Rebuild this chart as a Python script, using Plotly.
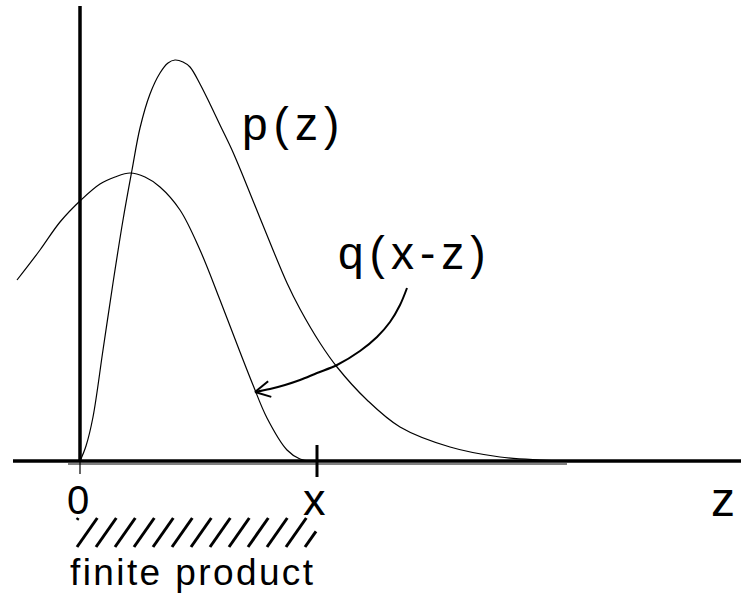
import numpy as np
import plotly.graph_objects as go

# ---- data (units: 1 = 100 px of the original drawing; origin at z=0 on the baseline) ----
p_z = [0.00, 0.06, 0.13, 0.23, 0.33, 0.43, 0.52, 0.60, 0.70, 0.80, 0.88, 0.95, 1.03, 1.10,
       1.20, 1.30, 1.40, 1.52, 1.63, 1.80, 2.07, 2.20, 2.40, 2.57, 2.87, 3.20, 3.70, 4.20,
       4.60, 4.87]
p_y = [0.00, 0.15, 0.44, 1.11, 1.78, 2.41, 2.91, 3.33, 3.67, 3.88, 3.98, 4.01, 3.99, 3.94,
       3.77, 3.57, 3.36, 3.11, 2.85, 2.43, 1.78, 1.52, 1.18, 0.94, 0.61, 0.34, 0.14, 0.04,
       0.01, 0.00]

q_z = [-0.63, -0.40, -0.20, 0.01, 0.20, 0.35, 0.50, 0.65, 0.80, 1.00, 1.20, 1.40, 1.60,
       1.73, 1.87, 2.07, 2.20, 2.30]
q_y = [1.81, 2.11, 2.39, 2.61, 2.77, 2.84, 2.88, 2.84, 2.74, 2.51, 2.11, 1.61, 1.09,
       0.76, 0.43, 0.11, 0.02, 0.00]

# curved arrow from the q(x-z) label to the q curve
arrow_z = [3.27, 3.20, 3.10, 2.97, 2.80, 2.57, 2.37, 2.20, 2.05, 1.90, 1.75]
arrow_y = [1.73, 1.56, 1.39, 1.24, 1.10, 0.96, 0.88, 0.81, 0.76, 0.72, 0.69]

x_mark = 2.37            # position of the x tick
zero_band_end = 4.87     # grey zero line end
hatch_left, hatch_right = -0.03, 2.36
hatch_top, hatch_bottom = -0.57, -0.86

FONT = "Liberation Sans, Arial, Helvetica, sans-serif"

fig = go.Figure()

# grey zero line just under the axis
fig.add_trace(go.Scatter(x=[-0.12, zero_band_end], y=[-0.03, -0.03], mode="lines",
                         line=dict(color="#808080", width=2), hoverinfo="skip"))

# axes
fig.add_shape(type="line", x0=-0.67, x1=6.7, y0=0, y1=0, line=dict(color="black", width=3.5))
fig.add_shape(type="line", x0=0, x1=0, y0=0, y1=4.55, line=dict(color="black", width=3.5))
fig.add_shape(type="line", x0=0, x1=0, y0=0, y1=-0.13, line=dict(color="black", width=1.2))
fig.add_shape(type="line", x0=x_mark, x1=x_mark, y0=0.16, y1=-0.16,
              line=dict(color="black", width=3))

# curves
fig.add_trace(go.Scatter(x=p_z, y=p_y, mode="lines", line=dict(color="black", width=1.2,
                         shape="spline", smoothing=1.0), hoverinfo="skip"))
fig.add_trace(go.Scatter(x=q_z, y=q_y, mode="lines", line=dict(color="black", width=1.2,
                         shape="spline", smoothing=1.0), hoverinfo="skip"))

# arrow
fig.add_trace(go.Scatter(x=arrow_z, y=arrow_y, mode="lines", line=dict(color="black", width=2,
                         shape="spline", smoothing=1.0), hoverinfo="skip"))
dx = arrow_z[-1] - arrow_z[-2]
dy = arrow_y[-1] - arrow_y[-2]
ang = np.arctan2(dy, dx)
L = 0.17
hx, hy = [], []
for s in (1, -1):
    a = ang + np.pi - s * np.radians(28)
    hx += [arrow_z[-1] + L * np.cos(a), arrow_z[-1], None]
    hy += [arrow_y[-1] + L * np.sin(a), arrow_y[-1], None]
fig.add_trace(go.Scatter(x=hx, y=hy, mode="lines", line=dict(color="black", width=2),
                         hoverinfo="skip"))

# hatching
spacing = 0.19
slant = 0.70
h = hatch_top - hatch_bottom
sx, sy = [], []
bases = np.arange(hatch_left - 0.19, hatch_right + 0.01, spacing)
for b in bases:
    xa, ya = b, hatch_bottom
    xb, yb = b + slant * h, hatch_top
    if xb < hatch_left or xa > hatch_right:
        continue
    if xa < hatch_left:
        t = (hatch_left - xa) / (xb - xa)
        xa, ya = hatch_left, ya + t * (yb - ya)
    if xb > hatch_right:
        t = (hatch_right - xa) / (xb - xa)
        xb, yb = hatch_right, ya + t * (yb - ya)
    sx += [xa, xb, None]
    sy += [ya, yb, None]
fig.add_trace(go.Scatter(x=sx, y=sy, mode="lines", line=dict(color="black", width=3),
                         hoverinfo="skip"))

def label(text, x, y, size, spacing_px=0):
    if spacing_px:
        text = f'<span style="letter-spacing:{spacing_px}px">{text}</span>'
    fig.add_annotation(x=x, y=y, text=text, showarrow=False, xanchor="center", yanchor="middle",
                       font=dict(family=FONT, size=size, color="black"))

label("p(z)", 2.13, 3.37, 46, 6)
label("q(x-z)", 3.345, 2.08, 46, 6)
label("0", -0.025, -0.39, 40)
label("x", 2.345, -0.38, 45)
label("z", 6.425, -0.38, 48)
label("finite product", 1.12, -1.11, 37, 2.4)

fig.update_layout(
    width=741, height=593,
    margin=dict(l=0, r=0, t=0, b=0),
    paper_bgcolor="white", plot_bgcolor="white",
    showlegend=False,
    xaxis=dict(range=[-0.80, 6.61], visible=False, fixedrange=True),
    yaxis=dict(range=[-1.32, 4.61], visible=False, fixedrange=True),
)

fig.write_html("out.html", config={"displayModeBar": False},
               post_script="document.body.style.margin='0';")
